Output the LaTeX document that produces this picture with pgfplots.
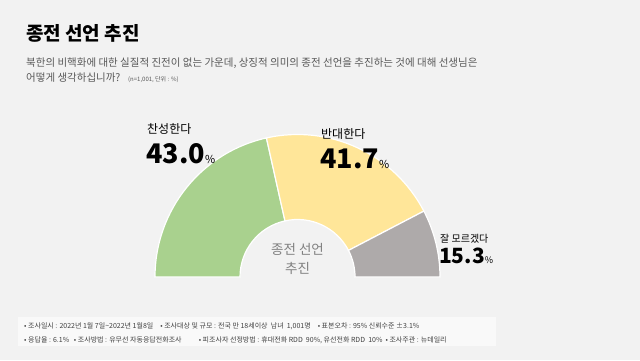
\documentclass[border=0pt]{standalone}
\usepackage{pgfplots}
\pgfplotsset{compat=1.18}
\usepackage{pgfplotstable}
\usepackage{fontspec}
\setmainfont{Noto Sans CJK KR}
\definecolor{bg}{HTML}{F2F2F2}
\definecolor{cgreen}{HTML}{A9D18E}
\definecolor{cyellow}{HTML}{FFE699}
\definecolor{cgray}{HTML}{AEAAAA}
\definecolor{subc}{HTML}{595959}
\definecolor{midc}{HTML}{808080}
\definecolor{footc}{HTML}{404040}
\pgfplotstableread{
label value
agree 43.0
oppose 41.7
unsure 15.3
}\datatable
\newcommand{\fs}[1]{\fontsize{#1bp}{#1bp}\selectfont}
\begin{document}
\begin{tikzpicture}[x=1bp,y=1bp]
\fill[bg] (0,0) rectangle (640,360);
% title
\node[anchor=base west,inner sep=0] at (26,320) {\fs{19}\bfseries 종전 선언 추진};
\node[anchor=base west,inner sep=0,text=subc] at (26,294) {\fs{10.5}북한의 비핵화에 대한 실질적 진전이 없는 가운데, 상징적 의미의 종전 선언을 추진하는 것에 대해 선생님은};
\node[anchor=base west,inner sep=0,text=subc] at (26,279) {\fs{10.5}어떻게 생각하십니까?};
\node[anchor=base west,inner sep=0,text=subc] at (128,279) {\fs{6}(n=1,001, 단위 : \%)};
\begin{axis}[at={(297.5bp,83bp)}, anchor=origin, x=1bp, y=1bp,
  xmin=-150, xmax=150, ymin=-5, ymax=150, hide axis, clip=false]
\pgfplotstablegetelem{0}{value}\of\datatable \pgfmathsetmacro{\va}{\pgfplotsretval}
\pgfplotstablegetelem{1}{value}\of\datatable \pgfmathsetmacro{\vb}{\pgfplotsretval}
\pgfplotstablegetelem{2}{value}\of\datatable \pgfmathsetmacro{\vc}{\pgfplotsretval}
\pgfmathsetmacro{\aa}{180}
\pgfmathsetmacro{\ab}{180-1.8*\va}
\pgfmathsetmacro{\ac}{\ab-1.8*\vb}
\pgfmathsetmacro{\ad}{\ac-1.8*\vc}
\def\R{142.5}\def\r{57.5}
\fill[cgreen,draw=white,line width=1.2bp] (axis cs:{\R*cos(\aa)},{\R*sin(\aa)}) arc[start angle=\aa,end angle=\ab,radius=\R bp] -- (axis cs:{\r*cos(\ab)},{\r*sin(\ab)}) arc[start angle=\ab,end angle=\aa,radius=\r bp] -- cycle;
\fill[cyellow,draw=white,line width=1.2bp] (axis cs:{\R*cos(\ab)},{\R*sin(\ab)}) arc[start angle=\ab,end angle=\ac,radius=\R bp] -- (axis cs:{\r*cos(\ac)},{\r*sin(\ac)}) arc[start angle=\ac,end angle=\ab,radius=\r bp] -- cycle;
\fill[cgray,draw=white,line width=1.2bp] (axis cs:{\R*cos(\ac)},{\R*sin(\ac)}) arc[start angle=\ac,end angle=\ad,radius=\R bp] -- (axis cs:{\r*cos(\ad)},{\r*sin(\ad)}) arc[start angle=\ad,end angle=\ac,radius=\r bp] -- cycle;
\end{axis}
% center text
\node[align=center,text=midc,inner sep=0] at (297.5,101) {\fs{13.5}종전 선언\\[5bp]\fs{13.5}추진};
% labels
\node[anchor=base west,inner sep=0] at (147,227) {\fs{12}찬성한다};
\node[anchor=base west,inner sep=0] at (146,197) {\fs{27}\bfseries 43.0\fs{11}\mdseries\%};
\node[anchor=base west,inner sep=0] at (321,222) {\fs{12}반대한다};
\node[anchor=base west,inner sep=0] at (320,192) {\fs{27}\bfseries 41.7\fs{11}\mdseries\%};
\node[anchor=base west,inner sep=0] at (440,118) {\fs{10}잘 모르겠다};
\node[anchor=base west,inner sep=0] at (439,97) {\fs{21}\bfseries 15.3\fs{9}\mdseries\%};
% footer
\fill[white,opacity=0.6] (18,14) rectangle (496,43);
\node[anchor=base west,inner sep=0,text=footc] at (24,32) {\fs{7}• 조사일시 : 2022년 1월 7일\textasciitilde 2022년 1월8일\quad • 조사대상 및 규모 : 전국 만 18세이상\ \ 남녀\ \ 1,001명\quad • 표본오차 : 95\% 신뢰수준 ±3.1\%};
\node[anchor=base west,inner sep=0,text=footc] at (24,18) {\fs{7}• 응답율 : 6.1\%\ \ \ • 조사방법 : 유무선 자동응답전화조사\qquad\ \ • 피조사자 선정방법 : 휴대전화 RDD\ \ 90\%, 유선전화 RDD\ \ 10\%\ \ • 조사주관 : 뉴데일리};
\end{tikzpicture}
\end{document}
